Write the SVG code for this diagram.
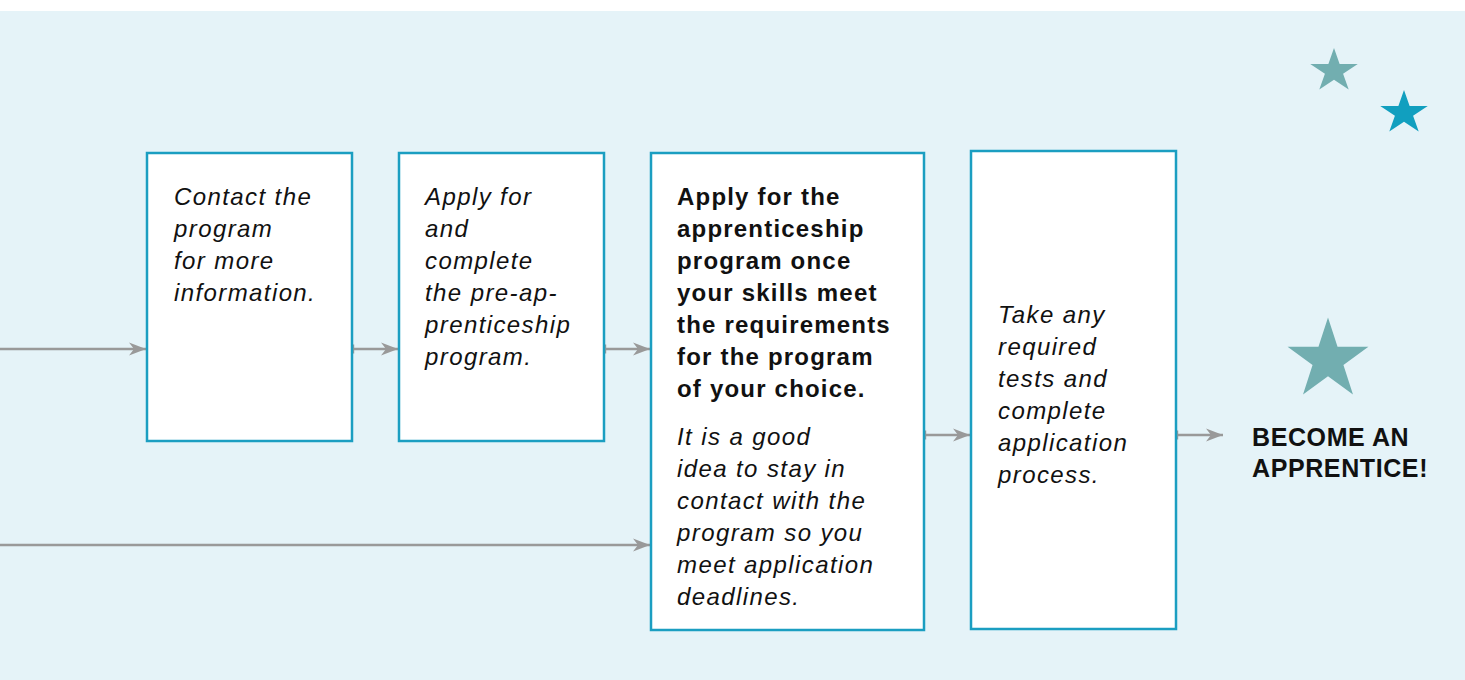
<svg xmlns="http://www.w3.org/2000/svg" width="1465" height="680" viewBox="0 0 1465 680">
  <defs>
    <style>
      .box { fill: #ffffff; stroke: #1b9ec1; stroke-width: 2.5; }
      .txt { font-family: "Liberation Sans", Arial, sans-serif; font-size: 24px; fill: #111111; letter-spacing: 1.4px; }
      .it { font-style: italic; }
      .bd { font-weight: bold; letter-spacing: 1.2px; }
      .goal { font-family: "Liberation Sans", Arial, sans-serif; font-size: 25px; font-weight: bold; fill: #111111; letter-spacing: 0.6px; }
      .conn { stroke: #999999; stroke-width: 2.5; fill: none; }
    </style>
    <marker id="head" markerUnits="userSpaceOnUse" markerWidth="20" markerHeight="14" refX="17" refY="7" orient="auto">
      <path d="M0,0.5 L17,7 L0,13.5 L5,7 Z" fill="#999999"/>
    </marker>
    <marker id="tick" markerUnits="userSpaceOnUse" markerWidth="4" markerHeight="12" refX="1" refY="6" orient="auto">
      <rect x="0" y="1.5" width="2.2" height="9" fill="#999999"/>
    </marker>
    <polygon id="star" points="0,-1 0.2245,-0.309 0.951,-0.309 0.3633,0.118 0.5878,0.809 0,0.382 -0.5878,0.809 -0.3633,0.118 -0.951,-0.309 -0.2245,-0.309"/>
  </defs>

  <!-- backdrop -->
  <rect x="0" y="0" width="1465" height="680" fill="#ffffff"/>
  <rect x="0" y="11" width="1465" height="669" fill="#e5f3f8"/>

  <!-- connectors -->
  <g id="connectors">
    <line class="conn" x1="0" y1="349" x2="146" y2="349" marker-end="url(#head)"/>
    <line class="conn" x1="353" y1="349" x2="398" y2="349" marker-start="url(#tick)" marker-end="url(#head)"/>
    <line class="conn" x1="605" y1="349" x2="650" y2="349" marker-start="url(#tick)" marker-end="url(#head)"/>
    <line class="conn" x1="0" y1="545" x2="650" y2="545" marker-end="url(#head)"/>
    <line class="conn" x1="925" y1="435" x2="970" y2="435" marker-start="url(#tick)" marker-end="url(#head)"/>
    <line class="conn" x1="1177" y1="435" x2="1223" y2="435" marker-start="url(#tick)" marker-end="url(#head)"/>
  </g>

  <g id="step-contact">
    <rect class="box" x="147" y="153" width="205" height="288"/>
    <text class="txt it">
      <tspan x="174" y="205">Contact the</tspan>
      <tspan x="174" y="237">program</tspan>
      <tspan x="174" y="269">for more</tspan>
      <tspan x="174" y="301">information.</tspan>
    </text>
  </g>

  <g id="step-pre-apprenticeship">
    <rect class="box" x="399" y="153" width="205" height="288"/>
    <text class="txt it">
      <tspan x="425" y="205">Apply for</tspan>
      <tspan x="425" y="237">and</tspan>
      <tspan x="425" y="269">complete</tspan>
      <tspan x="425" y="301">the pre-ap-</tspan>
      <tspan x="425" y="333">prenticeship</tspan>
      <tspan x="425" y="365">program.</tspan>
    </text>
  </g>

  <g id="step-apply">
    <rect class="box" x="651" y="153" width="273" height="477"/>
    <text class="txt bd">
      <tspan x="677" y="205">Apply for the</tspan>
      <tspan x="677" y="237">apprenticeship</tspan>
      <tspan x="677" y="269">program once</tspan>
      <tspan x="677" y="301">your skills meet</tspan>
      <tspan x="677" y="333">the requirements</tspan>
      <tspan x="677" y="365">for the program</tspan>
      <tspan x="677" y="397">of your choice.</tspan>
    </text>
    <text class="txt it">
      <tspan x="677" y="445">It is a good</tspan>
      <tspan x="677" y="477">idea to stay in</tspan>
      <tspan x="677" y="509">contact with the</tspan>
      <tspan x="677" y="541">program so you</tspan>
      <tspan x="677" y="573">meet application</tspan>
      <tspan x="677" y="605">deadlines.</tspan>
    </text>
  </g>

  <g id="step-tests">
    <rect class="box" x="971" y="151" width="205" height="478"/>
    <text class="txt it">
      <tspan x="998" y="323">Take any</tspan>
      <tspan x="998" y="355">required</tspan>
      <tspan x="998" y="387">tests and</tspan>
      <tspan x="998" y="419">complete</tspan>
      <tspan x="998" y="451">application</tspan>
      <tspan x="998" y="483">process.</tspan>
    </text>
  </g>

  <g id="goal">
    <use href="#star" transform="translate(1328,360) scale(42.5)" fill="#72aeb0"/>
    <text class="goal">
      <tspan x="1252" y="446">BECOME AN</tspan>
      <tspan x="1252" y="477">APPRENTICE!</tspan>
    </text>
  </g>

  <!-- decorative stars -->
  <g id="stars">
    <use href="#star" transform="translate(1334,71) scale(25,23)" fill="#72aeb0"/>
    <use href="#star" transform="translate(1404,113) scale(25,23)" fill="#119fbf"/>
  </g>
</svg>
